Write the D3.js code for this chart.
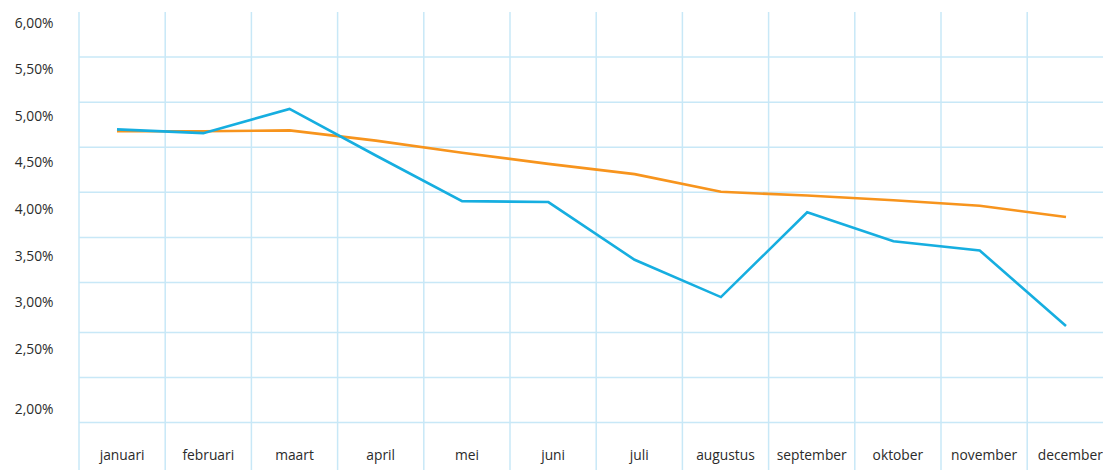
<!DOCTYPE html>
<html lang="nl">

<head>
    <meta charset="UTF-8">
    <script src="https://d3js.org/d3.v7.min.js"></script>
    <title>Rente per maand</title>
    <style>
        body {
            margin: 0;
            background: white;
        }

        text {
            font-family: "Open Sans", sans-serif;
            font-size: 13.8px;
            fill: #2b2b2b;
        }

        .grid line {
            stroke: #c8e8f7;
            stroke-width: 1.5px;
        }

        .serie {
            fill: none;
            stroke-width: 2.6px;
            stroke-linejoin: miter;
        }
    </style>
</head>

<body>
    <script>
        /*------------------- data --------------------*/
        const maanden = ["januari", "februari", "maart", "april", "mei", "juni",
            "juli", "augustus", "september", "oktober", "november", "december"]

        // blauwe lijn (%)
        const serieBlauw = [4.85, 4.81, 5.07, 4.57, 4.08, 4.07, 3.45, 3.05, 3.96, 3.65, 3.55, 2.74]
        // oranje lijn (%)
        const serieOranje = [4.83, 4.83, 4.84, 4.73, 4.60, 4.48, 4.37, 4.18, 4.14, 4.09, 4.03, 3.91]

        const yTicks = [6, 5.5, 5, 4.5, 4, 3.5, 3, 2.5, 2]

        /*------------------- layout --------------------*/
        const width = 1103
        const height = 470
        const left = 79

        const svg = d3.select("body").append("svg")
            .attr("width", width)
            .attr("height", height)

        // scales
        const xBand = d3.scaleBand()
            .domain(maanden)
            .range([left, left + 12 * 86.2])

        const xPoint = d3.scalePoint()
            .domain(maanden)
            .range([117, 1066])

        // labels of the original sit a bit irregular near the bottom
        const y = d3.scaleLinear()
            .domain([2, 2.5, 6])
            .range([408.3, 348.3, 22.3])

        // grid rows (one row is a little taller in the original)
        const gridRow = d3.scaleLinear()
            .domain([0, 6, 7, 10])
            .range([12, 282.5, 332.5, 467.5])

        /*------------------- grid --------------------*/
        const grid = svg.append("g").attr("class", "grid")

        grid.selectAll(".v")
            .data(maanden)
            .enter()
            .append("line")
            .attr("class", "v")
            .attr("x1", d => xBand(d))
            .attr("x2", d => xBand(d))
            .attr("y1", gridRow(0))
            .attr("y2", height)

        grid.selectAll(".h")
            .data(d3.range(1, 10))
            .enter()
            .append("line")
            .attr("class", "h")
            .attr("x1", left)
            .attr("x2", width)
            .attr("y1", d => gridRow(d))
            .attr("y2", d => gridRow(d))

        /*------------------- axes --------------------*/
        const fmt = v => v.toFixed(2).replace(".", ",") + "%"

        const yAxis = svg.append("g")
            .attr("transform", "translate(53.5,0)")
            .call(d3.axisLeft(y).tickValues(yTicks).tickFormat(fmt).tickSize(0).tickPadding(0))
        yAxis.select(".domain").remove()
        yAxis.selectAll("text").attr("dy", "0.36em").attr("fill", null)

        const xAxis = svg.append("g")
            .attr("transform", "translate(0,460)")
            .call(d3.axisBottom(xBand).tickSize(0).tickPadding(0))
        xAxis.select(".domain").remove()
        xAxis.selectAll("text").attr("dy", 0).attr("y", 0).attr("fill", null)

        /*------------------- lines --------------------*/
        const line = d3.line()
            .x((d, i) => xPoint(maanden[i]))
            .y(d => y(d))

        svg.append("path")
            .datum(serieOranje)
            .attr("class", "serie")
            .attr("stroke", "#f7941d")
            .attr("d", line)

        svg.append("path")
            .datum(serieBlauw)
            .attr("class", "serie")
            .attr("stroke", "#16aee0")
            .attr("d", line)
    </script>
</body>

</html>
